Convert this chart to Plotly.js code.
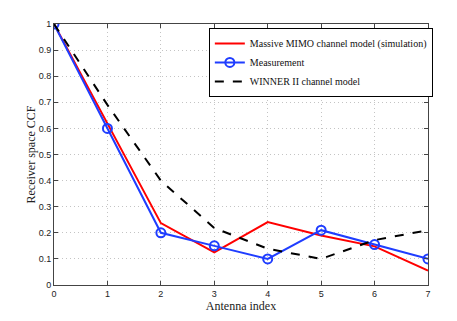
<!DOCTYPE html>
<html>
<head>
<meta charset="utf-8">
<script src="https://cdn.plot.ly/plotly-3.0.1.min.js"></script>
<style>html,body{margin:0;padding:0;background:#fff;}#chart{width:457px;height:321px;}</style>
</head>
<body>
<div id="chart"></div>
<script>
const antennaIndex = [0, 1, 2, 3, 4, 5, 6, 7];
const massiveMimo = [1.0, 0.62, 0.237, 0.125, 0.241, 0.19, 0.148, 0.055];
const measurement = [1.0, 0.6, 0.2, 0.15, 0.1, 0.21, 0.155, 0.1];
const winner2 = [1.0, 0.69, 0.4, 0.218, 0.139, 0.1, 0.172, 0.21];
const xTicks = [0, 1, 2, 3, 4, 5, 6, 7];
const yTicks = [0, 0.1, 0.2, 0.3, 0.4, 0.5, 0.6, 0.7, 0.8, 0.9, 1];
const yTickText = ['0', '0.1', '0.2', '0.3', '0.4', '0.5', '0.6', '0.7', '0.8', '0.9', '1'];

const serif = '"Liberation Serif", "DejaVu Serif", serif';
const sans = '"Liberation Sans", Arial, sans-serif';

const traces = [
  {x: antennaIndex, y: massiveMimo, mode: 'lines', name: 'Massive MIMO channel model (simulation)',
   line: {color: '#ff0000', width: 2}},
  {x: antennaIndex, y: measurement, mode: 'lines+markers', name: 'Measurement',
   line: {color: '#1f3dff', width: 2},
   marker: {symbol: 'circle-open', size: 9, color: '#1f3dff', line: {width: 2, color: '#1f3dff'}}},
  {x: antennaIndex, y: winner2, mode: 'lines', name: 'WINNER II channel model',
   line: {color: '#000000', width: 2, dash: 'dash'}}
];

const axisCommon = {
  showline: true, mirror: 'ticks', linecolor: '#444', linewidth: 1,
  ticks: 'inside', ticklen: 4, tickcolor: '#444',
  showgrid: true, gridcolor: '#c4c4c4', griddash: '1px,3px', gridwidth: 1,
  zeroline: false, tickfont: {family: sans, size: 9, color: '#222'}
};

const layout = {
  width: 457, height: 321,
  margin: {l: 54, r: 29, t: 24, b: 36},
  paper_bgcolor: '#ffffff', plot_bgcolor: '#ffffff',
  showlegend: true,
  xaxis: Object.assign({}, axisCommon, {
    range: [0, 7], tickvals: xTicks,
    title: {text: 'Antenna index', font: {family: serif, size: 12, color: '#222'}, standoff: 3}
  }),
  yaxis: Object.assign({}, axisCommon, {
    range: [0, 1], tickvals: yTicks, ticktext: yTickText,
    title: {text: 'Receiver space CCF', font: {family: serif, size: 12, color: '#222'}, standoff: 0}
  }),
  legend: {
    x: 0.414, y: 0.985, xanchor: 'left', yanchor: 'top',
    bgcolor: '#ffffff', bordercolor: '#000', borderwidth: 1,
    font: {family: serif, size: 10, color: '#111'},
    tracegroupgap: 0, itemwidth: 30
  }
};

Plotly.newPlot('chart', traces, layout, {displayModeBar: false, staticPlot: true});
</script>
</body>
</html>
